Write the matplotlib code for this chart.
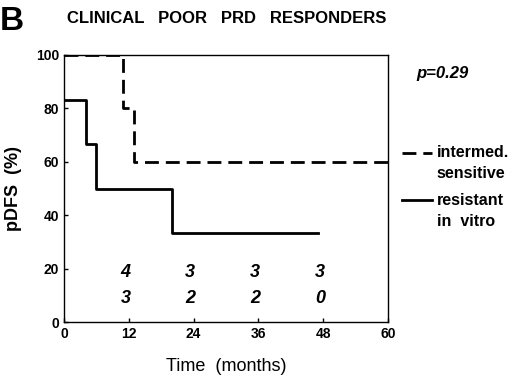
import matplotlib.pyplot as plt

# Kaplan-Meier step data (months, pDFS %)
sens_t = [0, 11, 13, 60]
sens_s = [100, 80, 60, 60]
res_t = [0, 4, 6, 20, 47]
res_s = [83.3, 66.7, 50, 33.3, 33.3]

risk_t = [12, 24, 36, 48]
risk_sens = ["4", "3", "3", "3"]
risk_res = ["3", "2", "2", "0"]

plt.rcParams['font.family'] = ['Liberation Sans', 'DejaVu Sans']

fig = plt.figure(figsize=(5.2, 3.79), dpi=100)
ax = fig.add_axes([0.123, 0.150, 0.623, 0.705])

ax.step(sens_t, sens_s, where="post", color="black", lw=2, linestyle=(0, (5, 2.5)))
ax.step(res_t, res_s, where="post", color="black", lw=2)

for t, a, b in zip(risk_t, risk_sens, risk_res):
    ax.text(t - 0.6, 18.5, a, ha="center", va="center", fontsize=13,
            fontweight="bold", style="italic")
    ax.text(t - 0.6, 9, b, ha="center", va="center", fontsize=13,
            fontweight="bold", style="italic")

ax.set_xlim(0, 60)
ax.set_ylim(0, 100)
ax.set_xticks([0, 12, 24, 36, 48, 60])
ax.set_yticks([0, 20, 40, 60, 80, 100])
ax.tick_params(direction="in", length=3, labelsize=10, width=1)
for lab in ax.get_xticklabels() + ax.get_yticklabels():
    lab.set_fontweight("bold")
for sp in ax.spines.values():
    sp.set_linewidth(1)

ax.set_xlabel("Time  (months)", fontsize=13, labelpad=12)
ax.set_ylabel("pDFS  (%)", fontsize=13, fontweight="bold", labelpad=10)

fig.text(0.0, 0.985, "B", fontsize=24, fontweight="bold", va="top")
fig.text(0.128, 0.97, "CLINICAL   POOR   PRD   RESPONDERS", fontsize=12,
         fontweight="bold", va="top")
fig.text(0.80, 0.805, "p=0.29", fontsize=12, fontweight="bold",
         style="italic", va="center")

# legend drawn by hand outside the axes
fig.lines.append(plt.Line2D([0.773, 0.830], [0.597, 0.597], color="black",
                            lw=2, linestyle=(0, (5, 2.5)), transform=fig.transFigure))
fig.lines.append(plt.Line2D([0.773, 0.830], [0.472, 0.472], color="black",
                            lw=2, transform=fig.transFigure))
fig.text(0.84, 0.597, "intermed.", fontsize=11.5, fontweight="bold", va="center")
fig.text(0.84, 0.543, "sensitive", fontsize=11.5, fontweight="bold", va="center")
fig.text(0.84, 0.472, "resistant", fontsize=11.5, fontweight="bold", va="center")
fig.text(0.84, 0.415, "in  vitro", fontsize=11.5, fontweight="bold", va="center")

fig.savefig("out.png", dpi=100)
